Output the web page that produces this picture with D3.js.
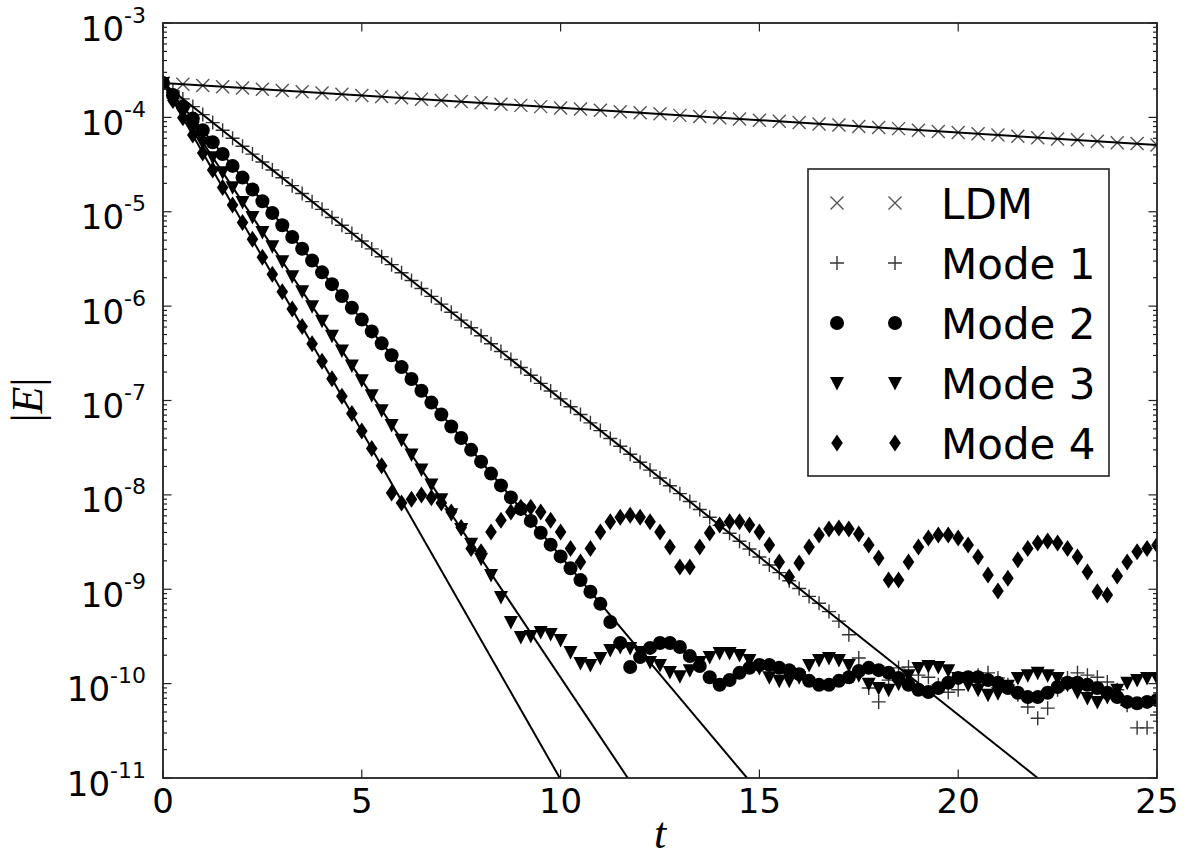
<!DOCTYPE html>
<html>
<head>
<meta charset="utf-8">
<script src="https://cdn.jsdelivr.net/npm/d3@7"></script>
<style>
  body { margin: 0; background: #fff; }
  svg { display: block; }
  text { fill: #000; }
</style>
</head>
<body>
<svg id="chart" width="1190" height="857"></svg>
<script>
// sample times (mode series every 0.25, LDM every 0.5)
const tModes = d3.range(101).map(i => i * 0.25);
const tLdm = d3.range(51).map(i => i * 0.5);

const ldm = [2.31e-4, 2.24e-4, 2.18e-4, 2.11e-4, 2.05e-4, 1.99e-4, 1.93e-4, 1.87e-4, 1.81e-4, 1.76e-4,
  1.71e-4, 1.66e-4, 1.61e-4, 1.56e-4, 1.51e-4, 1.47e-4, 1.43e-4, 1.38e-4, 1.34e-4, 1.30e-4,
  1.26e-4, 1.23e-4, 1.19e-4, 1.15e-4, 1.12e-4, 1.09e-4, 1.05e-4, 1.02e-4, 9.9e-5, 9.6e-5,
  9.3e-5, 9.1e-5, 8.8e-5, 8.5e-5, 8.3e-5, 8.0e-5, 7.8e-5, 7.6e-5, 7.3e-5, 7.1e-5,
  6.9e-5, 6.7e-5, 6.5e-5, 6.3e-5, 6.1e-5, 5.9e-5, 5.8e-5, 5.6e-5, 5.4e-5, 5.3e-5,
  5.1e-5];

const mode1 = [2.31e-4, 1.91e-4, 1.57e-4, 1.30e-4, 1.07e-4, 8.8e-5, 7.3e-5, 6.0e-5, 4.95e-5, 4.08e-5,
  3.37e-5, 2.77e-5, 2.29e-5, 1.89e-5, 1.56e-5, 1.28e-5, 1.06e-5, 8.7e-6, 7.2e-6, 5.9e-6,
  4.9e-6, 4.04e-6, 3.33e-6, 2.75e-6, 2.26e-6, 1.87e-6, 1.54e-6, 1.27e-6, 1.05e-6, 8.6e-7,
  7.1e-7, 5.9e-7, 4.85e-7, 4.0e-7, 3.3e-7, 2.72e-7, 2.24e-7, 1.85e-7, 1.52e-7, 1.26e-7,
  1.04e-7, 8.6e-8, 7.1e-8, 5.8e-8, 4.8e-8, 3.96e-8, 3.27e-8, 2.69e-8, 2.22e-8, 1.83e-8,
  1.51e-8, 1.25e-8, 1.03e-8, 8.5e-9, 7.0e-9, 5.8e-9, 4.75e-9, 3.92e-9, 3.23e-9, 2.67e-9,
  2.2e-9, 1.81e-9, 1.5e-9, 1.23e-9, 1.02e-9, 8.4e-10, 7.1e-10, 5.8e-10, 4.6e-10, 3.3e-10,
  1.87e-10, 9.0e-11, 6.4e-11, 1.09e-10, 1.47e-10, 1.5e-10, 1.23e-10, 1.17e-10, 9.7e-11, 8.1e-11,
  8.6e-11, 1.15e-10, 1.23e-10, 1.3e-10, 1.15e-10, 9.7e-11, 7.6e-11, 5.65e-11, 4.3e-11, 5.5e-11,
  8.6e-11, 1.15e-10, 1.3e-10, 1.23e-10, 1.17e-10, 1.04e-10, 8.6e-11, 5.9e-11, 3.4e-11, 3.4e-11,
  4.65e-11];

const mode2 = [2.31e-4, 1.73e-4, 1.30e-4, 9.7e-5, 7.3e-5, 5.46e-5, 4.09e-5, 3.06e-5, 2.30e-5, 1.72e-5,
  1.29e-5, 9.7e-6, 7.2e-6, 5.4e-6, 4.06e-6, 3.04e-6, 2.28e-6, 1.71e-6, 1.28e-6, 9.6e-7,
  7.2e-7, 5.4e-7, 4.03e-7, 3.02e-7, 2.26e-7, 1.69e-7, 1.27e-7, 9.5e-8, 7.1e-8, 5.3e-8,
  4.0e-8, 3.0e-8, 2.25e-8, 1.68e-8, 1.26e-8, 9.4e-9, 7.1e-9, 5.3e-9, 3.97e-9, 2.97e-9,
  2.23e-9, 1.67e-9, 1.25e-9, 9.4e-10, 7.0e-10, 4.5e-10, 2.69e-10, 1.5e-10, 1.91e-10, 2.39e-10,
  2.69e-10, 2.69e-10, 2.44e-10, 1.96e-10, 1.54e-10, 1.17e-10, 9.7e-11, 1.09e-10, 1.3e-10, 1.47e-10,
  1.58e-10, 1.58e-10, 1.47e-10, 1.39e-10, 1.26e-10, 1.07e-10, 9.7e-11, 9.7e-11, 1.07e-10, 1.17e-10,
  1.36e-10, 1.47e-10, 1.39e-10, 1.3e-10, 1.15e-10, 9.7e-11, 8.6e-11, 8.15e-11, 9.0e-11, 1.02e-10,
  1.15e-10, 1.17e-10, 1.17e-10, 1.09e-10, 1.02e-10, 9.0e-11, 8.0e-11, 7.2e-11, 7.2e-11, 8.0e-11,
  9.2e-11, 1.02e-10, 1.02e-10, 9.7e-11, 9.0e-11, 8.0e-11, 7.2e-11, 6.4e-11, 6.2e-11, 6.4e-11,
  6.7e-11];

const mode3 = [2.31e-4, 1.61e-4, 1.12e-4, 7.8e-5, 5.4e-5, 3.77e-5, 2.62e-5, 1.82e-5, 1.27e-5, 8.8e-6,
  6.1e-6, 4.3e-6, 2.98e-6, 2.07e-6, 1.44e-6, 1.0e-6, 7.0e-7, 4.85e-7, 3.38e-7, 2.35e-7,
  1.64e-7, 1.14e-7, 7.9e-8, 5.5e-8, 3.84e-8, 2.67e-8, 1.86e-8, 1.29e-8, 9.0e-9, 6.25e-9,
  4.35e-9, 3.03e-9, 2.11e-9, 1.42e-9, 8.3e-10, 4.5e-10, 3.12e-10, 3.2e-10, 3.52e-10, 3.36e-10,
  2.9e-10, 2.16e-10, 1.65e-10, 1.58e-10, 1.87e-10, 2.27e-10, 2.44e-10, 2.39e-10, 2.16e-10, 1.69e-10,
  1.58e-10, 1.33e-10, 1.2e-10, 1.39e-10, 1.69e-10, 1.91e-10, 2.11e-10, 2.11e-10, 2.01e-10, 1.78e-10,
  1.46e-10, 1.17e-10, 1.07e-10, 1.07e-10, 1.17e-10, 1.58e-10, 1.78e-10, 1.87e-10, 1.78e-10, 1.58e-10,
  1.23e-10, 1.0e-10, 9.0e-11, 8.6e-11, 1.0e-10, 1.23e-10, 1.46e-10, 1.54e-10, 1.5e-10, 1.39e-10,
  1.15e-10, 9.7e-11, 8.6e-11, 7.6e-11, 7.9e-11, 9.5e-11, 1.15e-10, 1.23e-10, 1.3e-10, 1.23e-10,
  1.15e-10, 9.7e-11, 8.15e-11, 7.05e-11, 6.4e-11, 7.2e-11, 8.6e-11, 1.02e-10, 1.09e-10, 1.15e-10,
  1.15e-10];

const mode4 = [2.31e-4, 1.51e-4, 9.9e-5, 6.5e-5, 4.2e-5, 2.77e-5, 1.81e-5, 1.18e-5, 7.7e-6, 5.1e-6,
  3.3e-6, 2.17e-6, 1.42e-6, 9.3e-7, 6.1e-7, 4.0e-7, 2.6e-7, 1.70e-7, 1.11e-7, 7.3e-8,
  4.75e-8, 3.1e-8, 2.03e-8, 1.05e-8, 8.2e-9, 9.0e-9, 1.0e-8, 9.3e-9, 8.2e-9, 6.6e-9,
  4.5e-9, 2.7e-9, 2.5e-9, 4.05e-9, 5.4e-9, 6.6e-9, 7.4e-9, 7.4e-9, 6.6e-9, 5.4e-9,
  4.05e-9, 2.7e-9, 1.95e-9, 2.7e-9, 4.05e-9, 5.2e-9, 5.8e-9, 6.1e-9, 5.8e-9, 5.2e-9,
  4.05e-9, 2.8e-9, 1.72e-9, 1.72e-9, 2.8e-9, 3.95e-9, 4.8e-9, 5.2e-9, 5.2e-9, 4.8e-9,
  4.05e-9, 2.95e-9, 1.95e-9, 1.35e-9, 1.9e-9, 2.8e-9, 3.75e-9, 4.35e-9, 4.45e-9, 4.35e-9,
  3.85e-9, 2.95e-9, 2.15e-9, 1.25e-9, 1.25e-9, 1.95e-9, 2.8e-9, 3.5e-9, 3.75e-9, 3.75e-9,
  3.5e-9, 2.95e-9, 2.2e-9, 1.42e-9, 9.6e-10, 1.31e-9, 2.05e-9, 2.7e-9, 3.1e-9, 3.25e-9,
  3.1e-9, 2.7e-9, 2.2e-9, 1.52e-9, 9.4e-10, 8.7e-10, 1.38e-9, 1.95e-9, 2.5e-9, 2.7e-9,
  2.95e-9];

// exponential fits: straight lines from t=0 to an end point
const fitStartValue = 2.31e-4;
const fitEndT = [25, 22.0, 14.69, 11.69, 9.98];
const fitEndValue = [5.1e-5, 1e-11, 1e-11, 1e-11, 1e-11];

const legendLabels = ['LDM', 'Mode 1', 'Mode 2', 'Mode 3', 'Mode 4'];
const markerTypes = ['x', 'plus', 'circle', 'tri', 'diamond'];
const xTicks = [0, 5, 10, 15, 20, 25];

var sans = '"DejaVu Sans", sans-serif';
var serif = '"Liberation Serif", "DejaVu Serif", serif';

var svg = d3.select('#chart');
var plotL = 163, plotR = 1157, plotT = 23, plotB = 778;

var x = d3.scaleLinear().domain([0, 25]).range([plotL, plotR]);
var y = d3.scaleLog().domain([1e-11, 1e-3]).range([plotB, plotT]);

svg.append('rect').attr('width', 1190).attr('height', 857).attr('fill', '#fff');

svg.append('clipPath').attr('id', 'plotclip')
  .append('rect').attr('x', plotL).attr('y', plotT)
  .attr('width', plotR - plotL).attr('height', plotB - plotT);

function markerPath(type) {
  if (type == 'x') return 'M-6.5,-6.5L6.5,6.5M-6.5,6.5L6.5,-6.5';
  if (type == 'plus') return 'M-7,0L7,0M0,-7L0,7';
  if (type == 'circle') return d3.symbol(d3.symbolCircle, Math.PI * 7 * 7)();
  if (type == 'tri') return 'M-7,-6L7,-6L0,7.5Z';
  return 'M0,-8.5L5.8,0L0,8.5L-5.8,0Z';
}

function styleMarker(sel, type) {
  if (type == 'x') sel.attr('fill', 'none').attr('stroke', '#555').attr('stroke-width', 1.4);
  else if (type == 'plus') sel.attr('fill', 'none').attr('stroke', '#333').attr('stroke-width', 1.4);
  else sel.attr('fill', '#000').attr('stroke', 'none');
}

var plot = svg.append('g').attr('clip-path', 'url(#plotclip)');

var seriesList = [
  { t: tLdm, v: ldm },
  { t: tModes, v: mode1 },
  { t: tModes, v: mode2 },
  { t: tModes, v: mode3 },
  { t: tModes, v: mode4 }
];

seriesList.forEach(function(s, i) {
  var type = markerTypes[i];
  var pts = s.v.map(function(v, k) { return [s.t[k], v]; });
  var sel = plot.append('g').selectAll('path').data(pts).enter().append('path')
    .attr('d', markerPath(type))
    .attr('transform', function(d) { return 'translate(' + x(d[0]) + ',' + y(d[1]) + ')'; });
  styleMarker(sel, type);
});

// fit lines
var line = d3.line().x(function(d) { return x(d[0]); }).y(function(d) { return y(d[1]); });
fitEndT.forEach(function(te, i) {
  plot.append('path')
    .attr('d', line([[0, fitStartValue], [te, fitEndValue[i]]]))
    .attr('fill', 'none').attr('stroke', '#000').attr('stroke-width', 2);
});

// frame
svg.append('rect').attr('x', plotL).attr('y', plotT)
  .attr('width', plotR - plotL).attr('height', plotB - plotT)
  .attr('fill', 'none').attr('stroke', '#222').attr('stroke-width', 1.8);

// ticks (inward, all four sides)
var tickG = svg.append('g').attr('stroke', '#222').attr('stroke-width', 1.2);
xTicks.forEach(function(t) {
  tickG.append('line').attr('x1', x(t)).attr('x2', x(t)).attr('y1', plotB).attr('y2', plotB - 8.5);
  tickG.append('line').attr('x1', x(t)).attr('x2', x(t)).attr('y1', plotT).attr('y2', plotT + 8.5);
});
y.ticks().forEach(function(v) {
  var lg = Math.log10(v);
  var major = Math.abs(lg - Math.round(lg)) < 1e-6;
  var len = major ? 8.5 : 4;
  tickG.append('line').attr('x1', plotL).attr('x2', plotL + len).attr('y1', y(v)).attr('y2', y(v));
  tickG.append('line').attr('x1', plotR).attr('x2', plotR - len).attr('y1', y(v)).attr('y2', y(v));
});

// tick labels
xTicks.forEach(function(t) {
  svg.append('text').attr('x', x(t)).attr('y', 813).style('font-family', sans)
    .attr('text-anchor', 'middle').attr('font-size', 34).text(t);
});
y.ticks().filter(function(v) {
  var lg = Math.log10(v); return Math.abs(lg - Math.round(lg)) < 1e-6;
}).forEach(function(v) {
  var e = Math.round(Math.log10(v));
  var tx = svg.append('text').attr('x', 146).attr('y', y(v) + 17.5).style('font-family', sans)
    .attr('text-anchor', 'end').attr('font-size', 34);
  tx.append('tspan').text('10');
  tx.append('tspan').attr('dy', -18).attr('font-size', 22).text('-' + Math.abs(e));
});

// axis labels
svg.append('text').attr('x', 660).attr('y', 848).attr('text-anchor', 'middle')
  .style('font-family', serif).style('font-style', 'italic')
  .attr('font-size', 44).text('t');

var yl = svg.append('text').attr('transform', 'translate(42,400) rotate(-90)')
  .attr('text-anchor', 'middle').style('font-family', serif)
  .attr('font-size', 44);
yl.append('tspan').text('|');
yl.append('tspan').style('font-style', 'italic').text('E');
yl.append('tspan').text('|');

// legend
var lg = svg.append('g');
lg.append('rect').attr('x', 808).attr('y', 169).attr('width', 301).attr('height', 307)
  .attr('fill', '#fff').attr('stroke', '#222').attr('stroke-width', 1.6);
legendLabels.forEach(function(name, i) {
  var cy = 203 + i * 60;
  [837, 895].forEach(function(cx) {
    var m = lg.append('path').attr('d', markerPath(markerTypes[i]))
      .attr('transform', 'translate(' + cx + ',' + cy + ')');
    styleMarker(m, markerTypes[i]);
  });
  lg.append('text').attr('x', 941).attr('y', cy + 15.5).style('font-family', sans)
    .attr('font-size', 42).text(name);
});
</script>
</body>
</html>
